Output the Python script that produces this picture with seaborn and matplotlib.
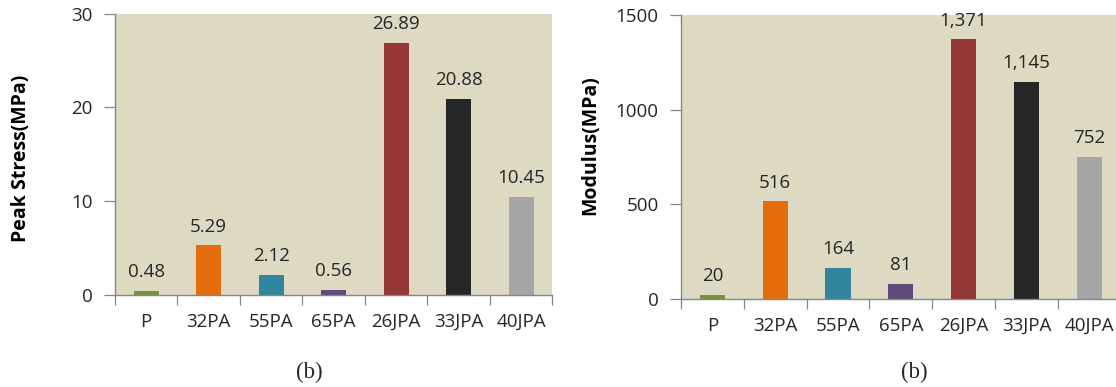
import matplotlib
matplotlib.use("Agg")
import matplotlib.pyplot as plt
import seaborn as sns
import pandas as pd

# Sample groups and measured mechanical properties
samples = ["P", "32PA", "55PA", "65PA", "26JPA", "33JPA", "40JPA"]
peak_stress = [0.48, 5.29, 2.12, 0.56, 26.89, 20.88, 10.45]
modulus = [20, 516, 164, 81, 1371, 1145, 752]
bar_colors = ["#77933C", "#E46C0A", "#31859C", "#604A7B", "#953735", "#262626", "#A6A6A6"]

sns.set_theme(style="white")
plt.rcParams["font.family"] = ["Open Sans", "DejaVu Sans"]

fig = plt.figure(figsize=(11.16, 3.87), dpi=100)
ax1 = fig.add_axes([0.1030, 0.2377, 0.3920, 0.7274])
ax2 = fig.add_axes([0.6102, 0.2274, 0.3940, 0.7339])

panel_bg = "#DDD9C3"
axis_col = "#868686"
text_col = "#262626"


def draw_panel(ax, values, ylabel, yticks, ymax, fmt, label_xy):
    df = pd.DataFrame({"sample": samples, "value": values})
    sns.barplot(data=df, x="sample", y="value", hue="sample",
                palette=bar_colors, width=0.4, legend=False,
                saturation=1, linewidth=0, ax=ax, zorder=2)
    ax.set_facecolor(panel_bg)
    ax.set_xlim(-0.5, len(samples) - 0.5)
    ax.set_ylim(0, ymax)
    ax.set_yticks(yticks)
    ax.set_yticklabels([str(t) for t in yticks], fontsize=13.5, color=text_col)
    ax.set_xticks(range(len(samples)))
    ax.set_xticklabels(samples, fontsize=13.5, color=text_col)
    ax.set_xticks([i - 0.5 for i in range(len(samples) + 1)], minor=True)
    ax.tick_params(axis="x", which="major", length=0, pad=13)
    ax.tick_params(axis="x", which="minor", length=7, width=0.9,
                   color=axis_col, direction="out")
    ax.tick_params(axis="y", length=8, width=0.9, color=axis_col,
                   direction="out", pad=8)
    ax.xaxis.set_ticks_position("bottom")
    ax.yaxis.set_ticks_position("left")
    for side in ("top", "right"):
        ax.spines[side].set_visible(False)
    for side in ("left", "bottom"):
        ax.spines[side].set_color(axis_col)
        ax.spines[side].set_linewidth(1.0)
    ax.set_xlabel("")
    ax.set_ylabel(ylabel, fontsize=14, fontweight="bold", color="black")
    ax.yaxis.label.set_verticalalignment("center")
    ax.yaxis.set_label_coords(*label_xy)
    for i, v in enumerate(values):
        ax.annotate(fmt(v), xy=(i, v), xytext=(0, 13.5),
                    textcoords="offset points", ha="center", va="center",
                    fontsize=13.5, color=text_col)


draw_panel(ax1, peak_stress, "Peak Stress(MPa)", [0, 10, 20, 30], 30,
           lambda v: f"{v:.2f}", (-0.215, 0.487))
draw_panel(ax2, modulus, "Modulus(MPa)", [0, 500, 1000, 1500], 1500,
           lambda v: f"{v:,}", (-0.207, 0.542))

for xc in (309, 914):
    fig.text(xc / 1116, 1 - 372 / 387, "(b)", ha="center", va="center",
             fontsize=16.5, family=["Liberation Serif", "DejaVu Serif"])

fig.savefig("out.png", dpi=100, facecolor="white")
